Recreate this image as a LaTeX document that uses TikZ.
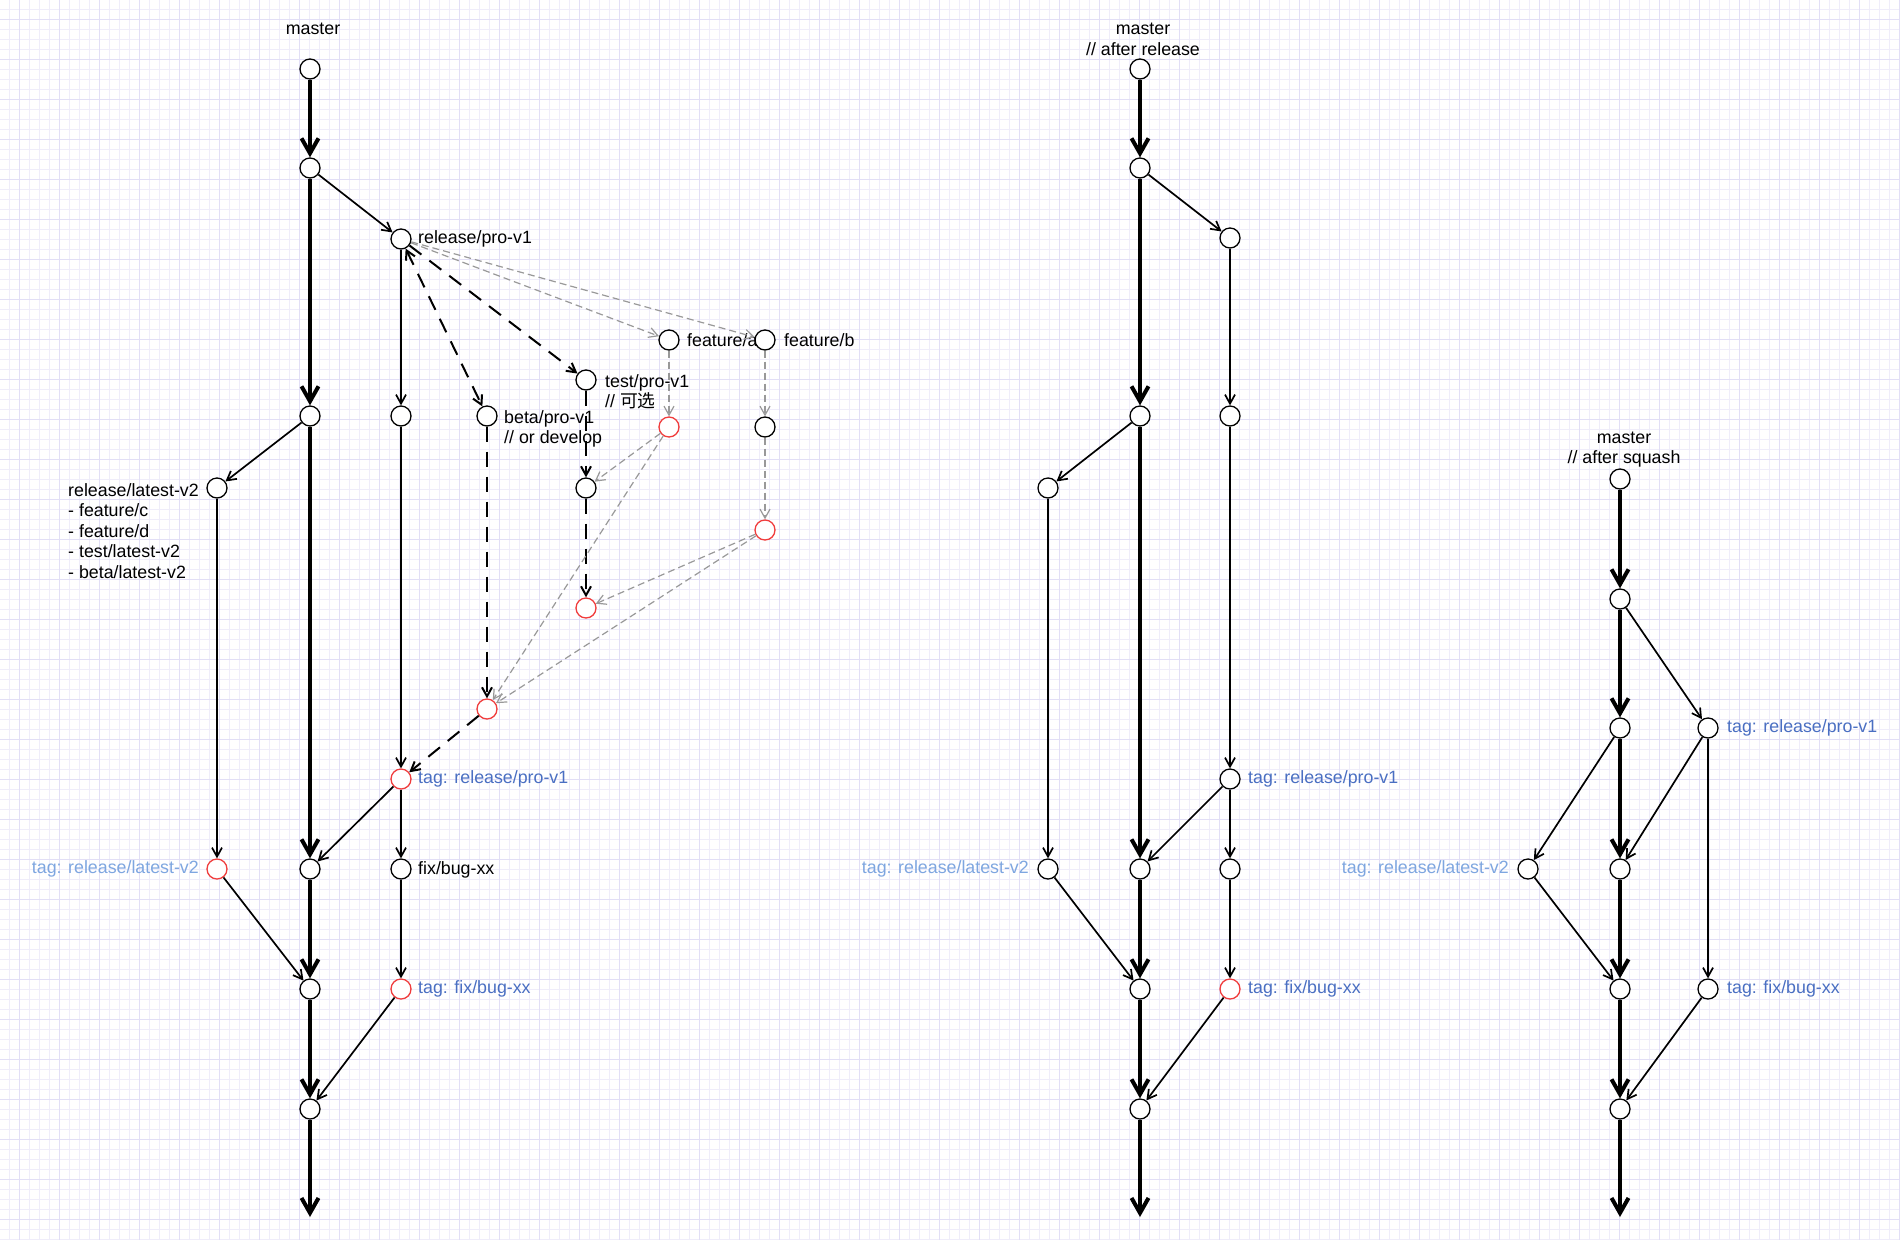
\documentclass[tikz,border=0pt]{standalone}
\usepackage{fontspec}
\setmainfont{Liberation Sans}
\newfontfamily\cjk{Noto Sans CJK SC}
\usetikzlibrary{arrows.meta}
\definecolor{tagblue}{HTML}{4A6FC2}
\definecolor{tagpale}{HTML}{7EA6E0}
\definecolor{hotred}{HTML}{F03C3C}
\definecolor{gridminor}{HTML}{EFEDFA}
\definecolor{gridmajor}{HTML}{E2DFF6}

\begin{document}
\begin{tikzpicture}[x=1pt,y=-1pt,line join=round,
  >={Straight Barb[length=9pt,width=10pt]},
  commit/.style={circle,draw=black,fill=white,line width=1.3pt,minimum size=20pt,inner sep=0pt},
  hot/.style={commit,draw=hotred},
  lbl/.style={font=\fontsize{17.8}{20.5}\selectfont,inner sep=0pt,align=left},
  tagtxt/.style={lbl,text=tagblue},
  tagpl/.style={lbl,text=tagpale},
  trunk/.style={line width=4pt,-{Straight Barb[length=15pt,width=17pt]}},
  br/.style={line width=1.7pt,->},
  plan/.style={line width=2pt,dash pattern=on 15pt off 10pt,->},
  feat/.style={draw=black!40,line width=1.2pt,dash pattern=on 7pt off 4pt,->}]

  % page and grid
  \useasboundingbox (0,0) rectangle (1900,1240);
  \fill[white] (0,0) rectangle (1900,1240);
  \foreach \g in {9.5,19.5,...,1899.5} \draw[gridminor,line width=1pt] (\g,0) -- (\g,1240);
  \foreach \g in {9.5,19.5,...,1239.5} \draw[gridminor,line width=1pt] (0,\g) -- (1900,\g);
  \foreach \g in {19.5,59.5,...,1899.5} \draw[gridmajor,line width=1pt] (\g,0) -- (\g,1240);
  \foreach \g in {19.5,59.5,...,1239.5} \draw[gridmajor,line width=1pt] (0,\g) -- (1900,\g);

  % ---- master, release in progress ----
  \node[lbl] (tM) at (313,29) {master};
  \node[commit] (m0) at (310,69) {};
  \node[commit] (m1) at (310,168) {};
  \node[commit] (m2) at (310,416) {};
  \node[commit] (m3) at (310,869) {};
  \node[commit] (m4) at (310,989) {};
  \node[commit] (m5) at (310,1109) {};
  \coordinate (mEnd) at (310,1217);

  \node[commit] (rel0) at (401,239) {};
  \node[commit] (rel1) at (401,416) {};
  \node[hot] (relT) at (401,779) {};
  \node[commit] (fix0) at (401,869) {};
  \node[hot] (fixT) at (401,989) {};

  \node[commit] (lat0) at (217,488) {};
  \node[hot] (latT) at (217,869) {};

  \node[commit] (beta0) at (487,416) {};
  \node[hot] (beta1) at (487,709) {};
  \node[commit] (test0) at (586,380) {};
  \node[commit] (test1) at (586,488) {};
  \node[hot] (test2) at (586,608) {};
  \node[commit] (fa0) at (669,340) {};
  \node[hot] (fa1) at (669,427) {};
  \node[commit] (fb0) at (765,340) {};
  \node[commit] (fb1) at (765,427) {};
  \node[hot] (fb2) at (765,530) {};

  \node[lbl,anchor=west] (lRel) at (418,239) {release/pro-v1};
  \node[lbl,anchor=west] (lFa) at (687,340) {feature/a};
  \node[lbl,anchor=west] (lFb) at (784,340) {feature/b};
  \node[lbl,anchor=west] (lTest) at (605,392) {test/pro-v1\\// {\cjk 可选}};
  \node[lbl,anchor=west] (lBeta) at (504,429) {beta/pro-v1\\// or develop};
  \node[lbl,anchor=west] (lLat) at (68,531)
    {release/latest-v2\\- feature/c\\- feature/d\\- test/latest-v2\\- beta/latest-v2};
  \node[tagtxt,anchor=west] (lRelT) at (418,779) {tag: release/pro-v1};
  \node[tagpl,anchor=east] (lLatT) at (199,869) {tag: release/latest-v2};
  \node[lbl,anchor=west] (lFix) at (418,870) {fix/bug-xx};
  \node[tagtxt,anchor=west] (lFixT) at (418,989) {tag: fix/bug-xx};

  \foreach \a/\b in {m0/m1,m1/m2,m2/m3,m3/m4,m4/m5,m5/mEnd}
    \draw[trunk] (\a) -- (\b);
  \foreach \a/\b in {m1/rel0,rel0/rel1,rel1/relT,m2/lat0,lat0/latT,
                     relT/m3,relT/fix0,latT/m4,fix0/fixT,fixT/m5}
    \draw[br] (\a) -- (\b);
  \draw[plan,<->] (rel0) -- (beta0);
  \foreach \a/\b in {rel0/test0,beta0/beta1,test0/test1,test1/test2,beta1/relT}
    \draw[plan] (\a) -- (\b);
  \foreach \a/\b in {rel0/fa0,rel0/fb0,fa0/fa1,fb0/fb1,fb1/fb2,
                     fa1/test1,fa1/beta1,fb2/test2,fb2/beta1}
    \draw[feat] (\a) -- (\b);

  % ---- master after release ----
  \node[lbl,align=center] (tA) at (1143,39.5) {master\\// after release};
  \node[commit] (am0) at (1140,69) {};
  \node[commit] (am1) at (1140,168) {};
  \node[commit] (am2) at (1140,416) {};
  \node[commit] (am3) at (1140,869) {};
  \node[commit] (am4) at (1140,989) {};
  \node[commit] (am5) at (1140,1109) {};
  \coordinate (amEnd) at (1140,1217);
  \node[commit] (ar0) at (1230,238) {};
  \node[commit] (ar1) at (1230,416) {};
  \node[commit] (arT) at (1230,779) {};
  \node[commit] (ar2) at (1230,869) {};
  \node[hot] (arF) at (1230,989) {};
  \node[commit] (al0) at (1048,488) {};
  \node[commit] (alT) at (1048,869) {};

  \node[tagtxt,anchor=west] (aRelT) at (1248,779) {tag: release/pro-v1};
  \node[tagpl,anchor=east] (aLatT) at (1029,869) {tag: release/latest-v2};
  \node[tagtxt,anchor=west] (aFixT) at (1248,989) {tag: fix/bug-xx};

  \foreach \a/\b in {am0/am1,am1/am2,am2/am3,am3/am4,am4/am5,am5/amEnd}
    \draw[trunk] (\a) -- (\b);
  \foreach \a/\b in {am1/ar0,ar0/ar1,ar1/arT,am2/al0,al0/alT,
                     arT/am3,arT/ar2,alT/am4,ar2/arF,arF/am5}
    \draw[br] (\a) -- (\b);

  % ---- master after squash ----
  \node[lbl,align=center] (tS) at (1624,449.5) {master\\// after squash};
  \node[commit] (sm0) at (1620,479) {};
  \node[commit] (sm1) at (1620,599) {};
  \node[commit] (sm2) at (1620,728) {};
  \node[commit] (sm3) at (1620,869) {};
  \node[commit] (sm4) at (1620,989) {};
  \node[commit] (sm5) at (1620,1109) {};
  \coordinate (smEnd) at (1620,1217);
  \node[commit] (srT) at (1708,728) {};
  \node[commit] (slT) at (1528,869) {};
  \node[commit] (sfT) at (1708,989) {};

  \node[tagtxt,anchor=west] (sRelT) at (1727,728) {tag: release/pro-v1};
  \node[tagpl,anchor=east] (sLatT) at (1509,869) {tag: release/latest-v2};
  \node[tagtxt,anchor=west] (sFixT) at (1727,989) {tag: fix/bug-xx};

  \foreach \a/\b in {sm0/sm1,sm1/sm2,sm2/sm3,sm3/sm4,sm4/sm5,sm5/smEnd}
    \draw[trunk] (\a) -- (\b);
  \foreach \a/\b in {sm1/srT,sm2/slT,srT/sm3,srT/sfT,slT/sm4,sfT/sm5}
    \draw[br] (\a) -- (\b);
\end{tikzpicture}
\end{document}
